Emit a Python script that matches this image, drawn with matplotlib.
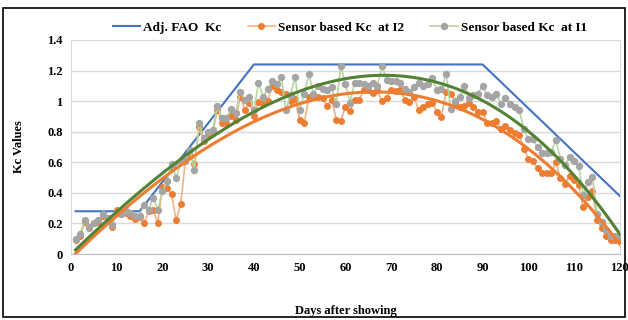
import numpy as np
import matplotlib.pyplot as plt
from matplotlib.patches import Rectangle

plt.rcParams['font.family'] = ['Liberation Serif', 'DejaVu Serif']
plt.rcParams['font.weight'] = 'bold'

days = np.arange(1, 121)

fao_days = [1, 15, 40, 90, 120]
fao_kc = [0.28, 0.28, 1.24, 1.24, 0.38]

kc_i1 = [0.10, 0.13, 0.22, 0.175, 0.205, 0.22, 0.26, 0.235, 0.19, 0.27,
         0.26, 0.28, 0.27, 0.25, 0.25, 0.32, 0.29, 0.37, 0.29, 0.41,
         0.48, 0.59, 0.50, 0.60, 0.61, 0.68, 0.55, 0.86, 0.76, 0.80,
         0.81, 0.97, 0.89, 0.89, 0.95, 0.92, 1.06, 1.01, 1.03, 0.94,
         1.12, 1.03, 1.08, 1.13, 1.11, 1.16, 0.94, 1.04, 1.16, 0.94,
         1.05, 1.18, 1.05, 1.10, 1.08, 1.07, 1.09, 0.98, 1.23, 1.11,
         0.99, 1.12, 1.12, 1.11, 1.10, 1.12, 1.10, 1.23, 1.14, 1.13,
         1.13, 1.12, 1.08, 1.06, 1.09, 1.12, 1.10, 1.11, 1.15, 1.07,
         1.08, 1.18, 0.95, 1.00, 1.03, 1.10, 1.02, 1.04, 1.05, 1.10,
         1.04, 1.03, 1.05, 0.98, 1.02, 0.98, 0.96, 0.94, 0.82, 0.75,
         0.75, 0.70, 0.66, 0.66, 0.67, 0.745, 0.625, 0.58, 0.635, 0.61,
         0.575, 0.385, 0.47, 0.505, 0.26, 0.21, 0.155, 0.12, 0.12, 0.12]

kc_i2 = [0.09, 0.12, 0.21, 0.17, 0.20, 0.21, 0.25, 0.23, 0.175, 0.29,
         0.27, 0.27, 0.25, 0.23, 0.24, 0.205, 0.28, 0.285, 0.205, 0.44,
         0.435, 0.39, 0.22, 0.325, 0.61, 0.64, 0.59, 0.83, 0.74, 0.77,
         0.79, 0.945, 0.855, 0.86, 0.90, 0.88, 1.03, 0.945, 0.99, 0.90,
         0.995, 0.98, 1.00, 1.10, 1.07, 1.06, 1.05, 1.00, 1.015, 0.88,
         0.855, 1.025, 1.04, 1.025, 1.02, 0.97, 1.01, 0.88, 0.87, 0.965,
         0.935, 1.01, 1.01, 1.07, 1.07, 1.055, 1.07, 1.00, 1.02, 1.075,
         1.065, 1.075, 1.005, 0.995, 1.03, 0.94, 0.96, 0.98, 0.985, 0.93,
         0.895, 1.06, 1.05, 0.99, 0.965, 0.97, 0.99, 0.965, 0.93, 0.93,
         0.86, 0.855, 0.87, 0.82, 0.835, 0.81, 0.79, 0.78, 0.69, 0.625,
         0.61, 0.56, 0.53, 0.53, 0.53, 0.60, 0.50, 0.46, 0.51, 0.485,
         0.45, 0.305, 0.375, 0.41, 0.225, 0.17, 0.12, 0.095, 0.095, 0.095]

fig = plt.figure(figsize=(6.28, 3.2), dpi=100)
ax = fig.add_axes([0.113, 0.206, 0.874, 0.669])

ax.plot(fao_days, fao_kc, color='#4472C4', lw=1.5, label='Adj. FAO  Kc', zorder=3)
ax.plot(days, kc_i2, color='#F4B183', lw=1.2, marker='o', markersize=4,
        markerfacecolor='#ED7D31', markeredgecolor='#ED7D31',
        label='Sensor based Kc  at I2', zorder=4)
ax.plot(days, kc_i1, color='#B5D6A0', lw=1.2, marker='o', markersize=4.3,
        markerfacecolor='#A5A5A5', markeredgecolor='#A5A5A5',
        label='Sensor based Kc  at I1', zorder=4)

# polynomial trend lines
xs = np.linspace(1, 120, 300)
fit_i2 = np.polyval(np.polyfit(days, kc_i2, 3), xs)
fit_i1 = np.polyval(np.polyfit(days, kc_i1, 3), xs)
ax.plot(xs, fit_i2, color='#ED7D31', lw=2.2, zorder=5)
ax.plot(xs, fit_i1, color='#548235', lw=2.2, zorder=5)

ax.set_xlim(0, 120)
ax.set_ylim(0, 1.4)
ax.set_xticks(range(0, 121, 10))
ax.set_yticks(np.arange(0, 1.41, 0.2))
ax.set_yticklabels(['0', '0.2', '0.4', '0.6', '0.8', '1', '1.2', '1.4'])
ax.tick_params(length=0, labelsize=9, pad=6)
ax.grid(axis='y', color='#D9D9D9', lw=1)
ax.set_axisbelow(True)
for s in ['top', 'right', 'left']:
    ax.spines[s].set_color('#D9D9D9')
ax.spines['bottom'].set_color('#BFBFBF')

ax.set_ylabel('Kc Values', fontsize=9, fontweight='bold', labelpad=16)
ax.set_xlabel('Days after showing', fontsize=9, fontweight='bold', labelpad=22)

fig.legend(loc='upper center', bbox_to_anchor=(0.557, 0.97), ncol=3, frameon=False,
           fontsize=9.5, handlelength=2.1, columnspacing=2.0, handletextpad=0.2)

fig.patches.append(Rectangle((0.004, 0.01), 0.992, 0.965, transform=fig.transFigure,
                             fill=False, edgecolor='black', lw=1.2))

fig.savefig('out.png', dpi=100)
